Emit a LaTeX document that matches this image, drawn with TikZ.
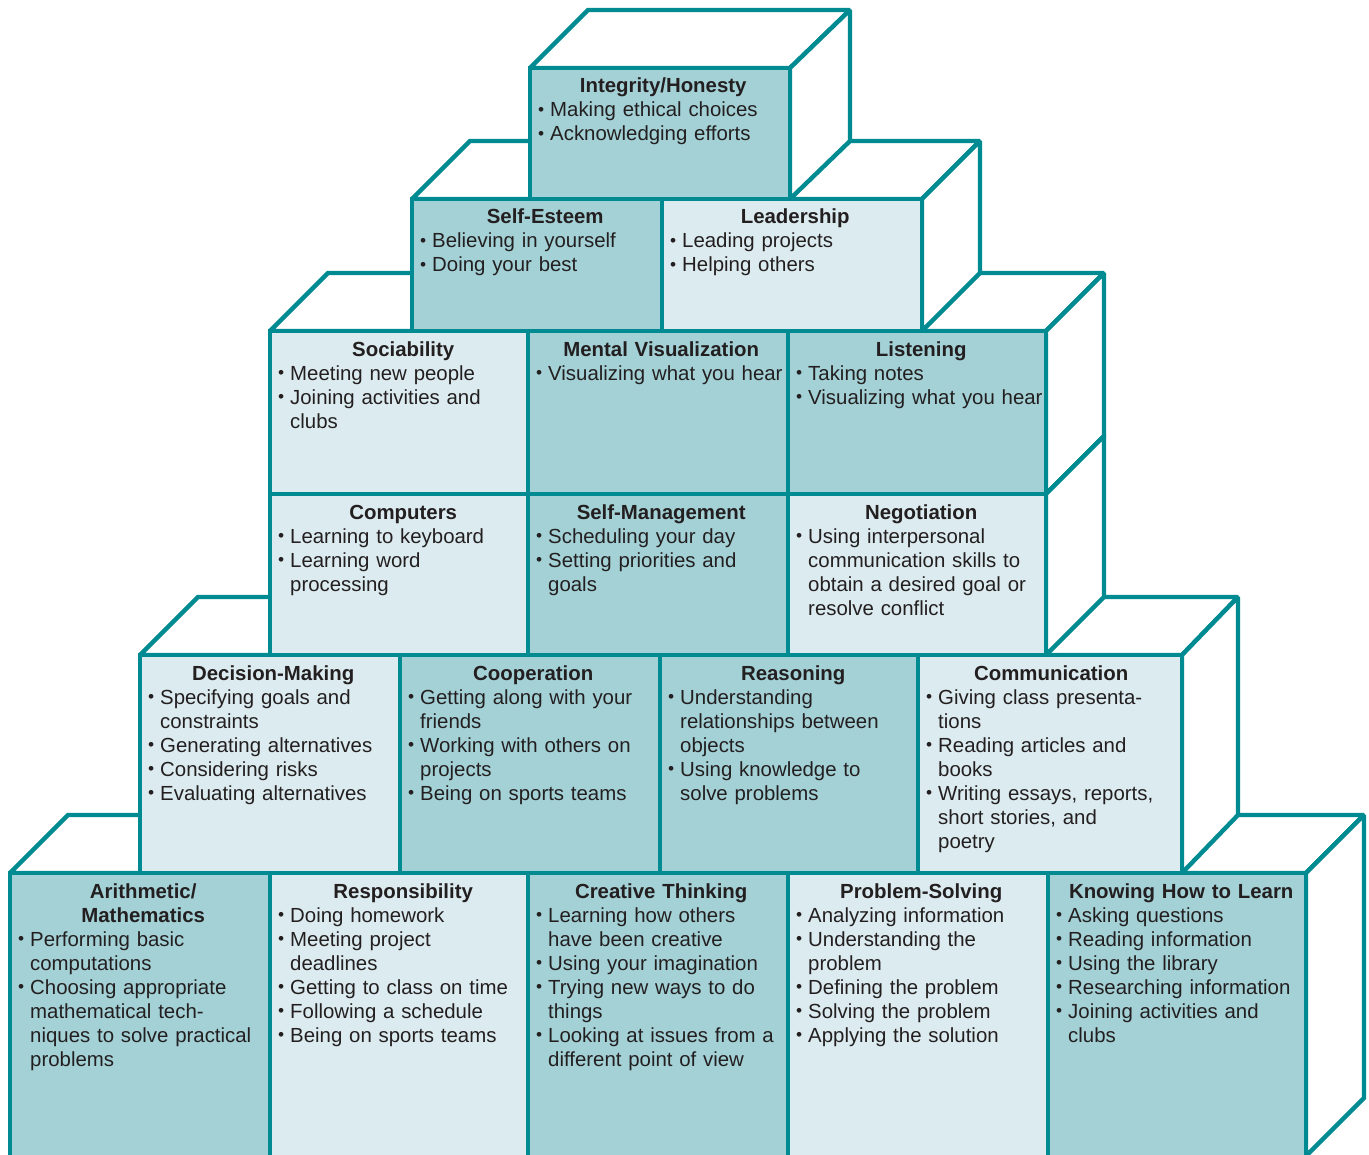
\documentclass[tikz,border=0pt]{standalone}
\usepackage{graphicx}
\usepackage{fontspec}
\setmainfont{Liberation Sans}
\definecolor{edge}{RGB}{0,139,146}
\definecolor{deep}{RGB}{163,209,214}
\definecolor{pale}{RGB}{220,235,239}
\definecolor{ink}{RGB}{35,31,32}
\newcommand{\itm}[1]{\par\hangindent=6pt\hangafter=1\noindent\makebox[6pt][l]{\raisebox{0.05em}{\scalebox{0.85}{\textbullet}}}#1\par}
\newcommand{\blocktitle}[1]{{\centering\bfseries\strut#1\par}}
\begin{document}
\begin{tikzpicture}[x=0.5pt, y=-0.5pt, line width=2.2pt, line join=miter, miter limit=2,
        wall/.style={draw=edge, fill=white},
        deepface/.style={draw=edge, fill=deep},
        paleface/.style={draw=edge, fill=pale},
        skill/.style={anchor=north west, inner xsep=3pt, inner ysep=3pt, text width=125pt, align=left, text=ink, font=\fontsize{10.2pt}{12pt}\selectfont}]
        \useasboundingbox (0,0) rectangle (1369,1155);
        \clip (0,0) rectangle (1369,1155);
        % bottom row
        \draw[wall] (10,873) -- (68,815) -- (1364,815) -- (1306,873) -- cycle;
        \draw[wall] (1306,873) -- (1364,815) -- (1364,1098) -- (1306,1156) -- cycle;
        \draw[deepface] (10,873) rectangle (270,1170);
        \draw[paleface] (270,873) rectangle (528,1170);
        \draw[deepface] (528,873) rectangle (788,1170);
        \draw[paleface] (788,873) rectangle (1048,1170);
        \draw[deepface] (1048,873) rectangle (1306,1170);
        \node[skill] (arithmetic) at (10,873) {\blocktitle{Arithmetic/\\Mathematics}
            \itm{Performing basic\newline computations}
            \itm{Choosing appropriate\newline mathematical tech-\newline niques to solve practical\newline problems}};
        \node[skill] (responsibility) at (270,873) {\blocktitle{Responsibility}
            \itm{Doing homework}
            \itm{Meeting project\newline deadlines}
            \itm{Getting to class on time}
            \itm{Following a schedule}
            \itm{Being on sports teams}};
        \node[skill] (creative) at (528,873) {\blocktitle{Creative Thinking}
            \itm{Learning how others\newline have been creative}
            \itm{Using your imagination}
            \itm{Trying new ways to do\newline things}
            \itm{Looking at issues from a\newline different point of view}};
        \node[skill] (problemsolving) at (788,873) {\blocktitle{Problem-Solving}
            \itm{Analyzing information}
            \itm{Understanding the\newline problem}
            \itm{Defining the problem}
            \itm{Solving the problem}
            \itm{Applying the solution}};
        \node[skill] (learning) at (1048,873) {\blocktitle{Knowing How to Learn}
            \itm{Asking questions}
            \itm{Reading information}
            \itm{Using the library}
            \itm{Researching information}
            \itm{Joining activities and\newline clubs}};
        % second row
        \draw[wall] (140,655) -- (198,597) -- (1238,597) -- (1182,655) -- cycle;
        \draw[wall] (1182,655) -- (1238,597) -- (1238,815) -- (1182,873) -- cycle;
        \draw[paleface] (140,655) rectangle (400,873);
        \draw[deepface] (400,655) rectangle (660,873);
        \draw[deepface] (660,655) rectangle (918,873);
        \draw[paleface] (918,655) rectangle (1182,873);
        \node[skill] (decision) at (140,655) {\blocktitle{Decision-Making}
            \itm{Specifying goals and\newline constraints}
            \itm{Generating alternatives}
            \itm{Considering risks}
            \itm{Evaluating alternatives}};
        \node[skill] (cooperation) at (400,655) {\blocktitle{Cooperation}
            \itm{Getting along with your\newline friends}
            \itm{Working with others on\newline projects}
            \itm{Being on sports teams}};
        \node[skill] (reasoning) at (660,655) {\blocktitle{Reasoning}
            \itm{Understanding\newline relationships between\newline objects}
            \itm{Using knowledge to\newline solve problems}};
        \node[skill] (communication) at (918,655) {\blocktitle{Communication}
            \itm{Giving class presenta-\newline tions}
            \itm{Reading articles and\newline books}
            \itm{Writing essays, reports,\newline short stories, and\newline poetry}};
        % middle block, two rows
        \draw[wall] (270,331) -- (328,273) -- (1104,273) -- (1046,331) -- cycle;
        \draw[wall] (1046,331) -- (1104,273) -- (1104,436) -- (1046,494) -- cycle;
        \draw[wall] (1046,494) -- (1104,436) -- (1104,597) -- (1046,655) -- cycle;
        \draw[paleface] (270,331) rectangle (528,494);
        \draw[deepface] (528,331) rectangle (788,494);
        \draw[deepface] (788,331) rectangle (1046,494);
        \draw[paleface] (270,494) rectangle (528,655);
        \draw[deepface] (528,494) rectangle (788,655);
        \draw[paleface] (788,494) rectangle (1046,655);
        \node[skill] (sociability) at (270,331) {\blocktitle{Sociability}
            \itm{Meeting new people}
            \itm{Joining activities and\newline clubs}};
        \node[skill] (visualization) at (528,331) {\blocktitle{Mental Visualization}
            \itm{Visualizing what you hear}};
        \node[skill] (listening) at (788,331) {\blocktitle{Listening}
            \itm{Taking notes}
            \itm{Visualizing what you hear}};
        \node[skill] (computers) at (270,494) {\blocktitle{Computers}
            \itm{Learning to keyboard}
            \itm{Learning word\newline processing}};
        \node[skill] (selfmanagement) at (528,494) {\blocktitle{Self-Management}
            \itm{Scheduling your day}
            \itm{Setting priorities and\newline goals}};
        \node[skill] (negotiation) at (788,494) {\blocktitle{Negotiation}
            \itm{Using interpersonal\newline communication skills to\newline obtain a desired goal or\newline resolve conflict}};
        % fourth row
        \draw[wall] (412,199) -- (470,141) -- (980,141) -- (922,199) -- cycle;
        \draw[wall] (922,199) -- (980,141) -- (980,273) -- (922,331) -- cycle;
        \draw[deepface] (412,199) rectangle (662,331);
        \draw[paleface] (662,199) rectangle (922,331);
        \node[skill] (selfesteem) at (412,199) {\blocktitle{Self-Esteem}
            \itm{Believing in yourself}
            \itm{Doing your best}};
        \node[skill] (leadership) at (662,199) {\blocktitle{Leadership}
            \itm{Leading projects}
            \itm{Helping others}};
        % top
        \draw[wall] (530,68) -- (588,10) -- (850,10) -- (790,68) -- cycle;
        \draw[wall] (790,68) -- (850,10) -- (850,141) -- (790,199) -- cycle;
        \draw[deepface] (530,68) rectangle (790,199);
        \node[skill] (integrity) at (530,68) {\blocktitle{Integrity/Honesty}
            \itm{Making ethical choices}
            \itm{Acknowledging efforts}};
\end{tikzpicture}
\end{document}
